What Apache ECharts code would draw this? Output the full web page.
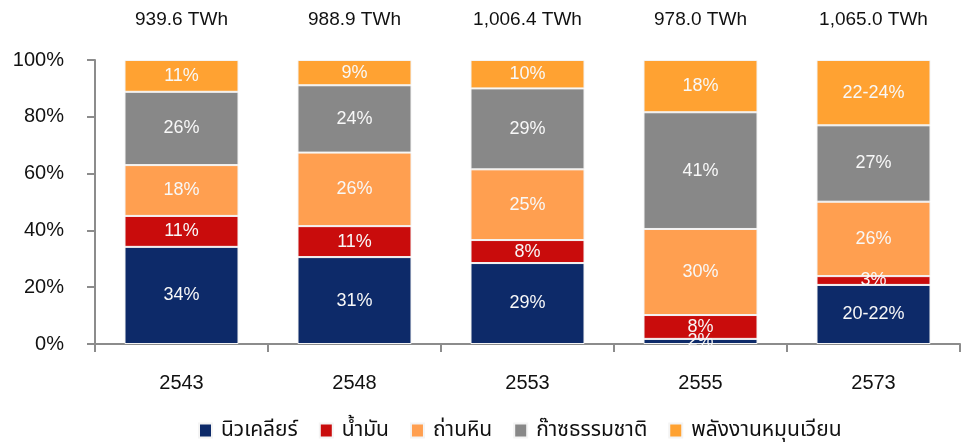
<!DOCTYPE html>
<html>
<head>
<meta charset="utf-8">
<script src="https://cdn.jsdelivr.net/npm/echarts@6/dist/echarts.min.js"></script>
<style>html,body{margin:0;padding:0;background:#fff;}#c{width:961px;height:442px;}</style>
</head>
<body>
<div id="c"></div>
<script>
const categories = ['2543', '2548', '2553', '2555', '2573'];
const totals = ['939.6 TWh', '988.9 TWh', '1,006.4 TWh', '978.0 TWh', '1,065.0 TWh'];
const seriesNames = ['นิวเคลียร์', 'น้ำมัน', 'ถ่านหิน', 'ก๊าซธรรมชาติ', 'พลังงานหมุนเวียน'];
const nuclear = [34.2, 30.6, 28.5, 1.8, 20.8];
const oil = [10.9, 10.9, 8.1, 8.4, 3.1];
const coal = [17.9, 25.9, 24.9, 30.3, 26.2];
const gas = [25.8, 23.7, 28.5, 41.1, 26.9];
const renewable = [11.2, 8.9, 10.0, 18.4, 23.0];
const nuclearLabels = ['34%', '31%', '29%', '2%', '20-22%'];
const oilLabels = ['11%', '11%', '8%', '8%', '3%'];
const coalLabels = ['18%', '26%', '25%', '30%', '26%'];
const gasLabels = ['26%', '24%', '29%', '41%', '27%'];
const renewableLabels = ['11%', '9%', '10%', '18%', '22-24%'];
const yTicks = [0, 20, 40, 60, 80, 100];

const colors = ['#0d2a69', '#c90c0c', '#ff9f50', '#888888', '#ffa232'];
const values = [nuclear, oil, coal, gas, renewable];
const labels = [nuclearLabels, oilLabels, coalLabels, gasLabels, renewableLabels];
const font = "'Liberation Sans', Arial, sans-serif";

const chart = echarts.init(document.getElementById('c'), null, {renderer: 'canvas'});
chart.setOption({
  animation: false,
  textStyle: {fontFamily: font},
  grid: {left: 95, right: 1, top: 60, bottom: 98, containLabel: false},
  legend: {
    top: 415, left: 193,
    itemWidth: 13, itemHeight: 14, itemGap: 21,
    icon: 'rect',
    textStyle: {fontSize: 21, color: '#111', padding: [0, 0, 0, 4], fontFamily: "'Noto Sans', 'Noto Sans Thai', 'Loma', 'Garuda', sans-serif"},
    data: seriesNames
  },
  xAxis: [{
    type: 'category', data: categories, position: 'bottom',
    axisLine: {show: true, lineStyle: {color: '#8c8c8c', width: 2}},
    axisTick: {show: true, length: 8, lineStyle: {color: '#8c8c8c', width: 2}},
    axisLabel: {fontSize: 20, color: '#111', margin: 29, fontFamily: font}
  }, {
    type: 'category', data: totals, position: 'top',
    axisLine: {show: false}, axisTick: {show: false},
    axisLabel: {fontSize: 19, color: '#111', margin: 31, fontFamily: font}
  }],
  yAxis: {
    type: 'value', min: yTicks[0], max: yTicks[yTicks.length - 1], interval: 20,
    axisLine: {show: true, lineStyle: {color: '#8c8c8c', width: 2}},
    axisTick: {show: true, length: 8, lineStyle: {color: '#8c8c8c', width: 2}},
    splitLine: {show: false},
    axisLabel: {fontSize: 20, color: '#111', margin: 31, formatter: '{value}%', fontFamily: font}
  },
  series: seriesNames.map((name, i) => ({
    name: name, type: 'bar', stack: 'total', barWidth: 114,
    xAxisIndex: 0,
    itemStyle: {color: colors[i], borderColor: '#f4f4f4', borderWidth: 1},
    label: {
      show: true, position: 'inside', color: '#f8f8f8', fontSize: 18, fontFamily: font,
      formatter: p => labels[i][p.dataIndex]
    },
    data: values[i]
  }))
});
</script>
</body>
</html>
